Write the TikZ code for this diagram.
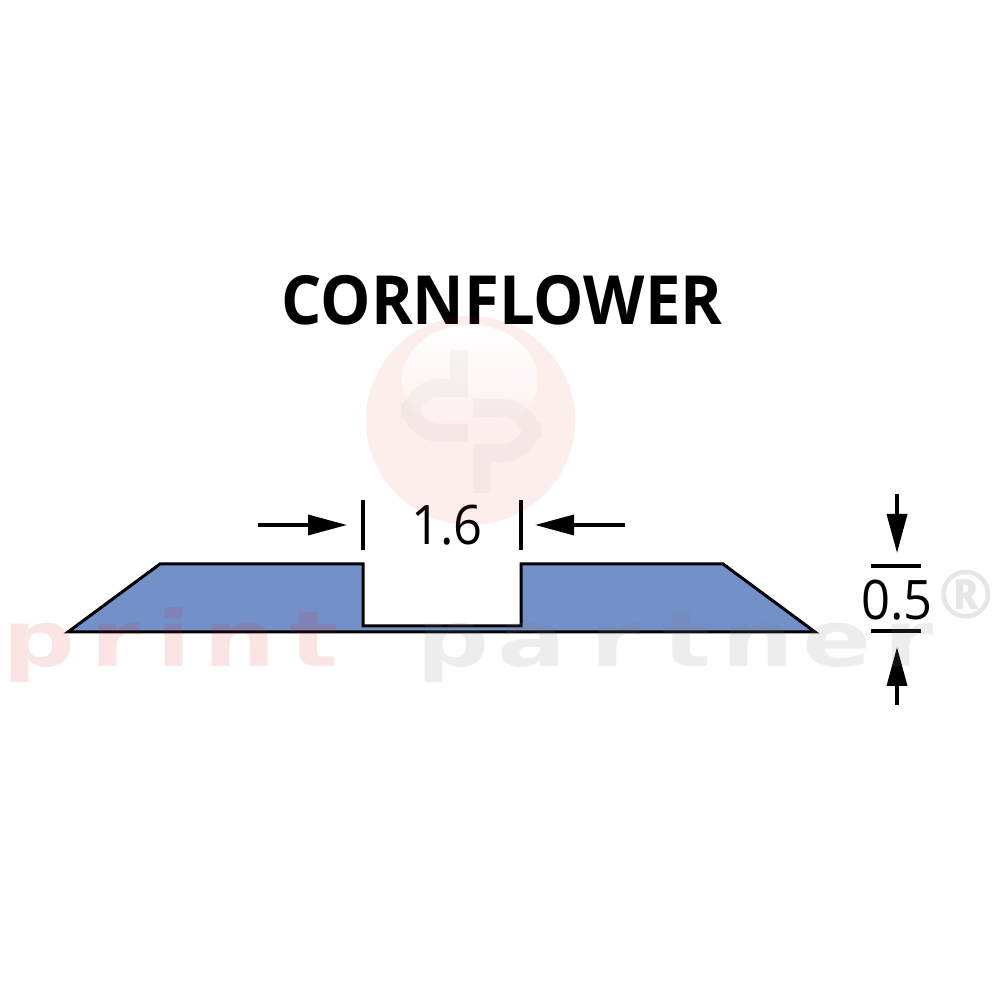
\documentclass[tikz,border=0pt]{standalone}
\usepackage{fontspec}
\setmainfont{Open Sans}
\newfontfamily\markfont{DejaVu Sans}[BoldFont={DejaVu Sans Bold}]
\usetikzlibrary{arrows.meta}
\definecolor{profileblue}{HTML}{7390C9}
\definecolor{markred}{HTML}{E02020}
\definecolor{markgray}{HTML}{808080}
\tikzset{
  dimline/.style={line width=0.035cm, -{Triangle[length=0.39cm,width=0.2cm]}},
  tickline/.style={line width=0.035cm},
  dimtext/.style={font=\fontsize{15.5pt}{18pt}\selectfont, inner sep=0pt, xscale=0.93},
  printletter/.style={font=\markfont\bfseries\fontsize{22pt}{24pt}\selectfont, text=markred, text opacity=0.12, anchor=base, inner sep=0pt, xscale=1.32},
  partnerletter/.style={printletter, text=markgray, text opacity=0.14},
  logoline/.style={markgray, opacity=0.06, line width=0.18cm},
}
\begin{document}
\begin{tikzpicture}
\useasboundingbox (0,0) rectangle (10,10);
\node[font=\bfseries\fontsize{19.3pt}{22pt}\selectfont, inner sep=0pt, xscale=0.935] (title) at (5.02,7.0) {CORNFLOWER};
\draw[profileblue, fill=profileblue] (0.68,3.68) -- (1.6,4.36) -- (3.63,4.36) -- (3.63,3.74) -- (5.21,3.74) -- (5.21,4.36) -- (7.23,4.36) -- (8.15,3.68) -- cycle;
\draw[line width=0.03cm, line join=miter] (0.68,3.68) -- (1.6,4.36) -- (3.63,4.36) -- (3.63,3.74) -- (5.21,3.74) -- (5.21,4.36) -- (7.23,4.36) -- (8.15,3.68) -- cycle;
\node[dimtext] (width) at (4.47,4.75) {1.6};
\node[dimtext] (height) at (8.97,4.0) {0.5};
\coordinate (tickAtop) at (3.63,5.0);
\coordinate (tickAbot) at (3.63,4.5);
\coordinate (tickBtop) at (5.21,5.0);
\coordinate (tickBbot) at (5.21,4.5);
\coordinate (arrowAin) at (2.58,4.75);
\coordinate (arrowAout) at (3.47,4.75);
\coordinate (arrowBin) at (6.25,4.75);
\coordinate (arrowBout) at (5.35,4.75);
\coordinate (arrowCin) at (8.97,5.06);
\coordinate (arrowCout) at (8.97,4.47);
\coordinate (arrowDin) at (8.97,2.95);
\coordinate (arrowDout) at (8.97,3.53);
\coordinate (barAl) at (8.71,4.34);
\coordinate (barAr) at (9.21,4.34);
\coordinate (barBl) at (8.71,3.69);
\coordinate (barBr) at (9.21,3.69);
\draw[tickline] (tickAtop) -- (tickAbot);
\draw[tickline] (tickBtop) -- (tickBbot);
\draw[dimline] (arrowAin) -- (arrowAout);
\draw[dimline] (arrowBin) -- (arrowBout);
\draw[dimline] (arrowCin) -- (arrowCout);
\draw[dimline] (arrowDin) -- (arrowDout);
\draw[tickline, line width=0.04cm] (barAl) -- (barAr);
\draw[tickline, line width=0.04cm] (barBl) -- (barBr);
\fill[markred, opacity=0.08] (4.705,5.795) circle (1.045);
\shade[top color=white, bottom color=white!92!markred] (4.7,6.2) ellipse (0.68 and 0.55);
\draw[logoline] (4.59,6.5) -- (4.59,6.12) [rounded corners=0.3cm] -- (4.1,6.12) -- (4.1,5.67) [sharp corners] -- (4.68,5.67);
\draw[logoline] (4.73,5.92) [rounded corners=0.3cm] -- (5.32,5.92) -- (5.32,5.47) [sharp corners] -- (4.82,5.47) -- (4.82,5.07);
\foreach \ltr/\xpos [count=\i] in {p/0.395, r/1.16, i/1.735, n/2.4, t/3.135}
  \node[printletter] (print\i) at (\xpos,3.33) {\ltr};
\foreach \ltr/\xpos [count=\i] in {p/4.53, a/5.32, r/6.16, t/6.87, n/7.58, e/8.37, r/9.09}
  \node[partnerletter] (partner\i) at (\xpos,3.33) {\ltr};
\node[font=\bfseries\fontsize{19pt}{22pt}\selectfont, text=markgray, text opacity=0.2, inner sep=0pt] (regmark) at (9.66,4.05) {\textregistered};
\end{tikzpicture}
\end{document}
